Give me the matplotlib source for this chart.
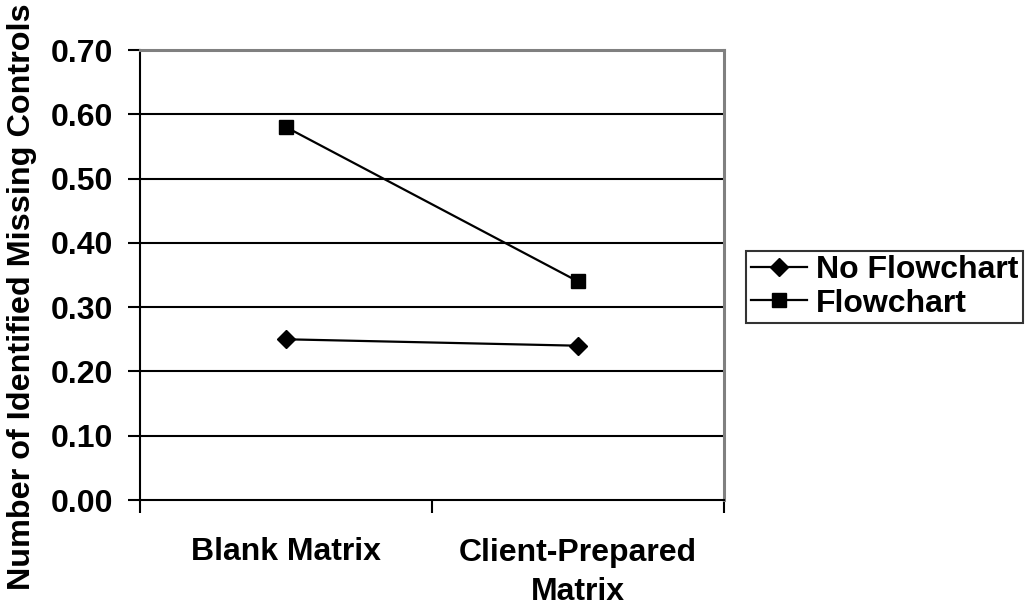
import matplotlib
matplotlib.use("Agg")
import matplotlib.pyplot as plt
from matplotlib.ticker import FixedLocator

plt.rcParams['font.family'] = ['Liberation Sans', 'DejaVu Sans']
plt.rcParams['font.weight'] = 'bold'

categories = ["Blank Matrix", "Client-Prepared\nMatrix"]
no_flowchart = [0.25, 0.24]
flowchart = [0.58, 0.34]
yticks = [0.0, 0.1, 0.2, 0.3, 0.4, 0.5, 0.6, 0.7]
ylabel = "Number of Identified Missing Controls"

FS = 23
W, H = 1033, 606
fig = plt.figure(figsize=(W / 100, H / 100), dpi=100)
ax = fig.add_axes([140 / W, 1 - 500 / H, 584 / W, 450 / H])

x = list(range(len(categories)))
ax.plot(x, no_flowchart, color='black', lw=1.6, marker='D', ms=9,
        mfc='black', mec='black', label='No Flowchart', zorder=5)
ax.plot(x, flowchart, color='black', lw=1.6, marker='s', ms=10,
        mfc='black', mec='black', label='Flowchart', zorder=5)

ax.set_xlim(-0.5, len(categories) - 0.5)
ax.set_ylim(0, 0.7)
ax.set_yticks(yticks)
ax.set_yticklabels([f"{v:.2f}" for v in yticks])
for v in yticks[1:-1]:
    ax.axhline(v, color='black', lw=1.5, zorder=1)

ax.set_xticks(x)
ax.set_xticklabels(categories, fontsize=FS, fontweight='bold', linespacing=1.4)
ax.xaxis.set_minor_locator(FixedLocator([i - 0.5 for i in range(len(categories) + 1)]))
ax.tick_params(axis='x', which='major', length=0, pad=27)
ax.tick_params(axis='x', which='minor', length=9, width=1.5, direction='out')
ax.tick_params(axis='y', which='major', length=9, width=1.5, direction='out',
               labelsize=FS, pad=10)
for lab in ax.get_yticklabels():
    lab.set_fontweight('bold')

for s in ['left', 'bottom']:
    ax.spines[s].set_color('black')
    ax.spines[s].set_linewidth(1.5)
for s in ['top', 'right']:
    ax.spines[s].set_color('#808080')
    ax.spines[s].set_linewidth(2.2)

fig.text(22 / W, 1 - 297 / H, ylabel, rotation=90, ha='center', va='center',
         fontsize=FS + 0.3, fontweight='bold')

leg = fig.legend(loc='center left', bbox_to_anchor=(746 / W, 1 - 287 / H),
                 fontsize=FS, frameon=True, fancybox=False, edgecolor='black',
                 handlelength=1.75, handletextpad=0.3, borderpad=0.15,
                 labelspacing=0.1, borderaxespad=0)
leg.get_frame().set_linewidth(1.5)
for t in leg.get_texts():
    t.set_fontweight('bold')

fig.savefig("out.png", dpi=100)
